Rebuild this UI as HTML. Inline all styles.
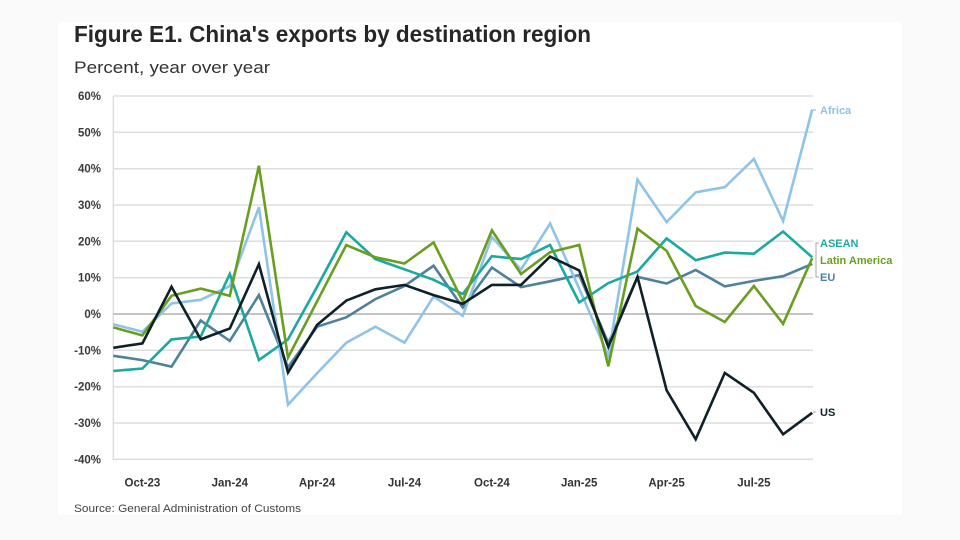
<!DOCTYPE html>
<html>
<head>
<meta charset="utf-8">
<style>
  html, body { margin: 0; padding: 0; background: #fafafa; }
  body { width: 960px; height: 540px; overflow: hidden; }
  svg { display: block; }
  text { font-family: "Liberation Sans", "DejaVu Sans", sans-serif; }
</style>
</head>
<body>
<svg width="960" height="540" viewBox="0 0 960 540" xmlns="http://www.w3.org/2000/svg">
  <rect x="0" y="0" width="960" height="540" fill="#fafafa"/>
  <rect x="58" y="22" width="844" height="493" fill="#ffffff"/>

  <!-- Title -->
  <text x="74" y="42" font-size="23" font-weight="bold" fill="#262626" textLength="517" lengthAdjust="spacingAndGlyphs">Figure E1. China's exports by destination region</text>
  <text x="74" y="73" font-size="17" fill="#333333" textLength="196" lengthAdjust="spacingAndGlyphs">Percent, year over year</text>

  <!-- Gridlines -->
  <g stroke="#dedede" stroke-width="1.5">
    <line x1="113.3" y1="96.0" x2="813" y2="96.0"/>
    <line x1="113.3" y1="132.3" x2="813" y2="132.3"/>
    <line x1="113.3" y1="168.7" x2="813" y2="168.7"/>
    <line x1="113.3" y1="205.0" x2="813" y2="205.0"/>
    <line x1="113.3" y1="241.3" x2="813" y2="241.3"/>
    <line x1="113.3" y1="277.7" x2="813" y2="277.7"/>
    <line x1="113.3" y1="350.3" x2="813" y2="350.3"/>
    <line x1="113.3" y1="386.7" x2="813" y2="386.7"/>
    <line x1="113.3" y1="423.0" x2="813" y2="423.0"/>
    <line x1="113.3" y1="459.3" x2="813" y2="459.3"/>
    <line x1="113.3" y1="96" x2="113.3" y2="460"/>
  </g>
  <line x1="113.3" y1="314" x2="813" y2="314" stroke="#b0b0b0" stroke-width="1.5"/>

  <!-- Y labels -->
  <g font-size="11.5" font-weight="bold" fill="#3a3a3a" text-anchor="end">
    <text x="101" y="100">60%</text>
    <text x="101" y="136.3">50%</text>
    <text x="101" y="172.7">40%</text>
    <text x="101" y="209">30%</text>
    <text x="101" y="245.3">20%</text>
    <text x="101" y="281.7">10%</text>
    <text x="101" y="318">0%</text>
    <text x="101" y="354.3">-10%</text>
    <text x="101" y="390.7">-20%</text>
    <text x="101" y="427">-30%</text>
    <text x="101" y="463.3">-40%</text>
  </g>

  <!-- X labels -->
  <g font-size="11.5" font-weight="bold" fill="#333333" text-anchor="middle">
    <text x="142.4" y="486.5">Oct-23</text>
    <text x="229.8" y="486.5">Jan-24</text>
    <text x="317.1" y="486.5">Apr-24</text>
    <text x="404.5" y="486.5">Jul-24</text>
    <text x="491.9" y="486.5">Oct-24</text>
    <text x="579.2" y="486.5">Jan-25</text>
    <text x="666.6" y="486.5">Apr-25</text>
    <text x="753.9" y="486.5">Jul-25</text>
  </g>

  <!-- Series -->
  <g fill="none" stroke-width="2.6" stroke-linejoin="miter" stroke-linecap="butt">
    <!-- EU -->
    <polyline stroke="#4f819b" points="113.3,355.8 142.4,360.1 171.5,366.7 200.7,320.5 229.8,340.9 258.9,295.1 288.0,367.4 317.1,326.7 346.3,317.3 375.4,299.1 404.5,286.0 433.6,265.7 462.7,307.5 491.9,267.5 521.0,287.1 550.1,281.3 579.2,275.1 608.3,343.1 637.5,276.9 666.6,283.5 695.7,270.0 724.8,286.4 753.9,280.9 783.1,276.2 812.2,263.9"/>
    <!-- Africa -->
    <polyline stroke="#8fc3e8" points="113.3,324.2 142.4,331.8 171.5,303.5 200.7,299.8 229.8,286.0 258.9,207.2 288.0,404.8 317.1,373.2 346.3,342.7 375.4,326.7 404.5,342.7 433.6,296.6 462.7,315.8 491.9,237.0 521.0,269.7 550.1,223.5 579.2,288.6 608.3,355.8 637.5,179.6 666.6,222.1 695.7,192.3 724.8,187.2 753.9,158.9 783.1,221.0 812.2,109.5"/>
    <!-- ASEAN -->
    <polyline stroke="#1aa9a1" points="113.3,371.0 142.4,368.5 171.5,339.4 200.7,336.5 229.8,274.0 258.9,360.1 288.0,339.4 317.1,286.8 346.3,232.3 375.4,259.1 404.5,269.3 433.6,279.8 462.7,294.0 491.9,256.2 521.0,259.1 550.1,245.0 579.2,302.4 608.3,283.1 637.5,271.5 666.6,238.4 695.7,260.2 724.8,252.6 753.9,253.7 783.1,231.5 812.2,257.3"/>
    <!-- Latin America -->
    <polyline stroke="#6a9e1e" points="113.3,327.4 142.4,335.4 171.5,295.8 200.7,288.6 229.8,295.8 258.9,165.8 288.0,357.6 317.1,301.3 346.3,245.0 375.4,257.3 404.5,263.5 433.6,242.4 462.7,301.3 491.9,230.4 521.0,274.0 550.1,252.2 579.2,245.0 608.3,366.3 637.5,228.6 666.6,250.8 695.7,306.0 724.8,322.0 753.9,286.0 783.1,323.8 812.2,258.1"/>
    <!-- US -->
    <polyline stroke="#0f2027" points="113.3,347.8 142.4,343.4 171.5,286.8 200.7,339.4 229.8,328.5 258.9,264.2 288.0,372.5 317.1,324.9 346.3,300.6 375.4,289.3 404.5,284.9 433.6,295.1 462.7,303.8 491.9,284.9 521.0,284.9 550.1,256.6 579.2,270.4 608.3,346.7 637.5,276.9 666.6,390.3 695.7,439.3 724.8,372.9 753.9,392.8 783.1,434.3 812.2,412.8"/>
  </g>

  <!-- Leader lines -->
  <g stroke="#a8a8a8" stroke-width="1" fill="none">
    <polyline points="813,110 816,110"/>
    <polyline points="819,243 816,243 816,277 819,277"/>
    <polyline points="813,412 816,412"/>
  </g>

  <!-- Series labels -->
  <g font-size="11" font-weight="bold">
    <text x="820" y="114" fill="#8fc3e8">Africa</text>
    <text x="820" y="247" fill="#1aa9a1">ASEAN</text>
    <text x="820" y="264" fill="#6a9e1e">Latin America</text>
    <text x="820" y="281" fill="#4f819b">EU</text>
    <text x="820" y="416" fill="#0f2027">US</text>
  </g>

  <!-- Source -->
  <text x="74" y="512" font-size="11" fill="#444444" textLength="227" lengthAdjust="spacingAndGlyphs">Source: General Administration of Customs</text>
</svg>
</body>
</html>
